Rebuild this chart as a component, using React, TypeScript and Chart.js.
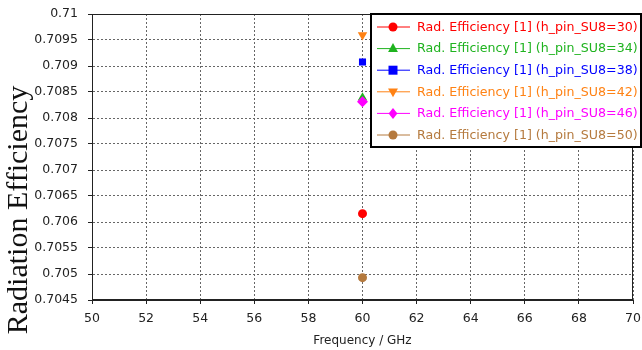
import React, { useEffect, useRef } from "react";
import { Chart, registerables } from "chart.js";

Chart.register(...registerables);

const seriesLabels = [
  "Rad. Efficiency [1] (h_pin_SU8=30)",
  "Rad. Efficiency [1] (h_pin_SU8=34)",
  "Rad. Efficiency [1] (h_pin_SU8=38)",
  "Rad. Efficiency [1] (h_pin_SU8=42)",
  "Rad. Efficiency [1] (h_pin_SU8=46)",
  "Rad. Efficiency [1] (h_pin_SU8=50)",
];
const frequencies = [60];
const eff30 = [0.70616];
const eff34 = [0.70839];
const eff38 = [0.709077];
const eff42 = [0.709596];
const eff46 = [0.708313];
const eff50 = [0.70493];
const seriesValues = [eff30, eff34, eff38, eff42, eff46, eff50];
const seriesColors = ["#ff0000", "#1fb31f", "#0000ff", "#ff8214", "#ff00ff", "#b57a3e"];
const seriesMarkers = ["circle", "triangle", "rect", "triangle", "rectRot", "circle"];
const markerRotation = [0, 0, 0, 180, 0, 0];
const markerRadius = [4.5, 5.5, 5, 5.5, 5.5, 4.5];

const xTitle = "Frequency / GHz";
const yTitle = "Radiation Efficiency";
const xMin = 50, xMax = 70, xStep = 2;
const yMin = 0.7045, yMax = 0.71, yStep = 0.0005;

function drawMarker(ctx: CanvasRenderingContext2D, style: string, r: number, rot: number, x: number, y: number, color: string) {
  ctx.save();
  ctx.fillStyle = color;
  ctx.translate(x, y);
  ctx.rotate((rot * Math.PI) / 180);
  ctx.beginPath();
  if (style === "circle") {
    ctx.arc(0, 0, r, 0, Math.PI * 2);
  } else if (style === "triangle") {
    ctx.moveTo(0, -r);
    ctx.lineTo(r * 0.9, r * 0.6);
    ctx.lineTo(-r * 0.9, r * 0.6);
    ctx.closePath();
  } else if (style === "rect") {
    const s = r * 0.9;
    ctx.rect(-s, -s, 2 * s, 2 * s);
  } else if (style === "rectRot") {
    ctx.moveTo(0, -r);
    ctx.lineTo(r * 0.8, 0);
    ctx.lineTo(0, r);
    ctx.lineTo(-r * 0.8, 0);
    ctx.closePath();
  }
  ctx.fill();
  ctx.restore();
}

const frameAndLegend = {
  id: "frameAndLegend",
  beforeDatasetsDraw(chart: any) {
    const { ctx, chartArea } = chart;
    ctx.save();
    ctx.strokeStyle = "#222";
    ctx.lineWidth = 1;
    ctx.setLineDash([]);
    ctx.strokeRect(
      Math.round(chartArea.left) + 0.5,
      Math.round(chartArea.top) + 0.5,
      Math.round(chartArea.right - chartArea.left) - 1,
      Math.round(chartArea.bottom - chartArea.top) - 1
    );
    ctx.restore();
  },
  afterDraw(chart: any) {
    const { ctx } = chart;
    // y-axis title
    ctx.save();
    ctx.translate(19, 210);
    ctx.rotate(-Math.PI / 2);
    ctx.fillStyle = "#111";
    ctx.font = "30px 'Liberation Serif', serif";
    ctx.textAlign = "center";
    ctx.textBaseline = "middle";
    ctx.fillText(yTitle, 0, 0);
    ctx.restore();

    // legend box
    const bx = 371, by = 14, bw = 270, bh = 133;
    ctx.save();
    ctx.fillStyle = "#ffffff";
    ctx.fillRect(bx, by, bw, bh);
    ctx.strokeStyle = "#000";
    ctx.lineWidth = 2;
    ctx.strokeRect(bx, by, bw, bh);
    let fs = 13;
    ctx.font = fs + "px 'DejaVu Sans', sans-serif";
    const w = ctx.measureText(seriesLabels[0]).width;
    fs = (fs * 221) / w;
    ctx.font = fs + "px 'DejaVu Sans', sans-serif";
    ctx.textBaseline = "middle";
    ctx.textAlign = "left";
    seriesLabels.forEach((lab, i) => {
      const cy = 27 + i * 21.6;
      ctx.strokeStyle = seriesColors[i];
      ctx.lineWidth = 1;
      ctx.beginPath();
      ctx.moveTo(377, cy);
      ctx.lineTo(410, cy);
      ctx.stroke();
      ctx.fillStyle = seriesColors[i];
      ctx.fillText(lab, 417, cy + 0.5);
    });
    ctx.restore();
    seriesLabels.forEach((lab, i) => {
      const cy = 27 + i * 21.6;
      drawMarker(ctx, seriesMarkers[i], markerRadius[i], markerRotation[i], 393, cy, seriesColors[i]);
    });
  },
};

function zeroPad(s: any) {
  s.paddingLeft = 0;
  s.paddingRight = 0;
  s.paddingTop = 0;
  s.paddingBottom = 0;
}

export default function App() {
  const ref = useRef<HTMLCanvasElement | null>(null);
  useEffect(() => {
    if (!ref.current) return;
    const datasets = seriesLabels.map((label, i) => ({
      label,
      data: frequencies.map((f, j) => ({ x: f, y: seriesValues[i][j] })),
      borderColor: seriesColors[i],
      backgroundColor: seriesColors[i],
      pointStyle: seriesMarkers[i] as any,
      pointRotation: markerRotation[i],
      pointRadius: markerRadius[i],
      pointBorderWidth: 0,
      showLine: true,
      borderWidth: 1,
      order: seriesLabels.length - i,
    }));
    const tickFont = { family: "'DejaVu Sans', sans-serif", size: 12.5 };
    const chart = new Chart(ref.current, {
      type: "scatter",
      data: { datasets },
      options: {
        animation: false,
        responsive: false,
        events: [],
        layout: { padding: { left: 0, right: 9, top: 14, bottom: 0 } },
        plugins: {
          legend: { display: false },
          tooltip: { enabled: false },
        },
        scales: {
          x: {
            type: "linear",
            min: xMin,
            max: xMax,
            afterFit: (s: any) => {
              s.height = 50;
              zeroPad(s);
            },
            ticks: { stepSize: xStep, color: "#222", font: tickFont, padding: 7, maxRotation: 0 },
            grid: { color: "#666", lineWidth: 1, tickLength: 4, tickBorderDash: [], tickColor: "#222" },
            border: { display: true, color: "#222", dash: [2, 2] },
            title: {
              display: true,
              text: xTitle,
              color: "#222",
              font: { family: "'DejaVu Sans', sans-serif", size: 12 },
              padding: { top: 0, bottom: 2 },
            },
          },
          y: {
            type: "linear",
            min: yMin,
            max: yMax,
            afterFit: (s: any) => {
              s.width = 92;
              zeroPad(s);
            },
            ticks: {
              stepSize: yStep,
              color: "#222",
              font: tickFont,
              padding: 10,
              callback: (v: any) => String(Math.round(Number(v) * 10000) / 10000),
            },
            grid: { color: "#666", lineWidth: 1, tickLength: 4, tickBorderDash: [], tickColor: "#222" },
            border: { display: true, color: "#222", dash: [2, 2] },
          },
        },
      },
      plugins: [frameAndLegend],
    });
    return () => chart.destroy();
  }, []);
  return (
    <div style={{ position: "absolute", left: 0, top: 0, width: 642, height: 350, background: "#fff" }}>
      <canvas ref={ref} width={642} height={350} style={{ width: 642, height: 350 }} />
    </div>
  );
}
